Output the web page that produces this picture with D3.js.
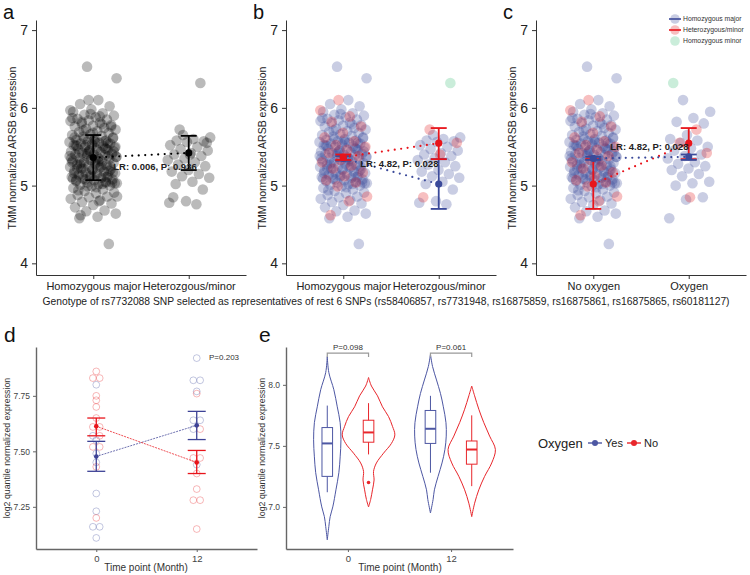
<!DOCTYPE html>
<html>
<head>
<meta charset="utf-8">
<script src="https://cdn.jsdelivr.net/npm/d3@7"></script>
<style>
body { margin: 0; background: #fff; }
svg { font-family: "Liberation Sans", Arial, sans-serif; }
</style>
</head>
<body>
<svg id="fig" width="750" height="575"></svg>
<script>
// ---- data: panels a-c (TMM normalized ARSB expression) ----
var catsGeno = ['Homozygous major', 'Heterozgous/minor'];
var catsOxy = ['No oxygen', 'Oxygen'];

// homozygous major column (also the "No oxygen" column in c), split by colour used in b/c
var homBlue = [6.53, 6.38, 6.10, 6.05, 6.02, 5.98, 5.95, 5.93, 5.91, 5.90, 5.88, 5.86, 5.85, 5.84, 5.83, 5.81, 5.80, 5.78,
	5.77, 5.76, 5.74, 5.73, 5.72, 5.70, 5.69, 5.68, 5.66, 5.65, 5.64, 5.63, 5.61, 5.60, 5.59, 5.58, 5.57, 5.56, 5.55, 5.54,
	5.54, 5.53, 5.52, 5.51, 5.50, 5.49, 5.48, 5.47, 5.46, 5.45, 5.44, 5.43, 5.42, 5.41, 5.40, 5.40, 5.39, 5.38, 5.37, 5.36,
	5.35, 5.34, 5.33, 5.32, 5.31, 5.30, 5.29, 5.28, 5.27, 5.26, 5.25, 5.24, 5.23, 5.22, 5.21, 5.20, 5.19, 5.18, 5.17, 5.16,
	5.15, 5.14, 5.13, 5.12, 5.11, 5.10, 5.09, 5.08, 5.07, 5.06, 5.05, 5.04, 5.03, 5.02, 5.01, 5.00, 4.99, 4.97, 4.95, 4.93,
	4.91, 4.90, 4.88, 4.86, 4.85, 4.83, 4.81, 4.79, 4.77, 4.75, 4.72, 4.68, 4.67, 4.64, 4.60, 4.58, 4.25, 5.92, 5.87, 5.79,
	5.71, 5.62, 5.56, 5.51, 5.47, 5.43, 5.38, 5.34, 5.29, 5.25, 5.21, 5.16, 5.12, 5.08, 5.03, 4.98, 4.94, 5.55, 5.45, 5.35,
	5.24, 5.14, 5.04, 5.58, 5.52, 5.48, 5.41, 5.37, 5.31, 5.27, 5.19, 5.13, 5.09, 5.02, 5.60, 5.44, 5.33, 5.22, 5.11];
var homRed = [6.10, 5.97, 5.89, 5.82, 5.76, 5.68, 5.62, 5.57, 5.52, 5.50, 5.46, 5.42, 5.38, 5.33, 5.30, 5.26, 5.22, 5.17,
	5.12, 5.07, 5.04, 4.99, 4.86, 4.80, 4.62];

var hetBlue = [5.65, 5.62, 5.60, 5.58, 5.57, 5.56, 5.52, 5.50, 5.47, 5.45, 5.42, 5.40, 5.38, 5.35, 5.33, 5.30, 5.27, 5.25,
	5.20, 5.18, 5.15, 5.12, 5.10, 5.05, 5.02, 4.95, 4.80, 4.78, 4.76];
var hetRed = [5.72, 5.55, 5.40, 4.85];
var hetGreen = [6.32];

var oxyBlue = [6.10, 5.95, 5.87, 5.82, 5.80, 5.65, 5.60, 5.58, 5.55, 5.50, 5.48, 5.45, 5.40, 5.38, 5.35, 5.30, 5.28, 5.25,
	5.22, 5.20, 5.15, 5.12, 5.05, 5.03, 5.00, 4.85, 4.82, 4.58];
var oxyRed = [5.72, 5.55, 5.42, 4.85];
var oxyGreen = [6.32];

// mean and error bar rows: [category, mean, low, high]
var statA = [[1, 5.36, 5.07, 5.65], [2, 5.42, 5.20, 5.64]];
var statBBlue = [[1, 5.35, 5.32, 5.38], [2, 5.02, 4.70, 5.34]];
var statBRed = [[1, 5.365, 5.33, 5.40], [2, 5.545, 5.34, 5.74]];
var statCBlue = [[1, 5.35, 5.33, 5.37], [2, 5.37, 5.33, 5.40]];
var statCRed = [[1, 5.02, 4.70, 5.34], [2, 5.545, 5.34, 5.74]];
var lrA = 'LR: 0.006, P: 0.936';
var lrBC = 'LR: 4.82, P: 0.028';
var legendLabels = ['Homozygous  major', 'Heterozygous/minor', 'Homozygous minor'];

// ---- data: panel d ----
var timeCats = ['0', '12'];
var d0Red = [7.86, 7.83, 7.83, 7.75, 7.73, 7.70, 7.65, 7.61, 7.61, 7.57, 7.52, 7.52, 7.43, 7.20];
var d0Blue = [7.80, 7.57, 7.55, 7.49, 7.45, 7.31, 7.23, 7.16, 7.16, 7.11];
var d12Red = [7.76, 7.60, 7.47, 7.47, 7.40, 7.33, 7.28, 7.28, 7.15];
var d12Blue = [7.92, 7.82, 7.82, 7.77, 7.64, 7.64, 7.60, 7.44];
var statDRed = [[1, 7.613, 7.57, 7.65], [2, 7.45, 7.40, 7.504]];
var statDBlue = [[1, 7.477, 7.41, 7.545], [2, 7.617, 7.553, 7.68]];
var pD = 'P=0.203';

// ---- data: panel e (violin density profiles [value, relative density]) ----
var vYes0 = [[8.23, 0], [8.10, 0.06], [7.96, 0.25], [7.82, 0.38], [7.69, 0.49], [7.55, 0.52], [7.41, 0.49], [7.28, 0.44],
	[7.14, 0.33], [7.00, 0.21], [6.92, 0.11], [6.84, 0.06], [6.73, 0]];
var vNo0 = [[8.06, 0], [7.99, 0.11], [7.91, 0.34], [7.82, 0.53], [7.74, 0.76], [7.66, 0.91], [7.59, 1.0], [7.52, 0.87],
	[7.44, 0.57], [7.36, 0.30], [7.29, 0.19], [7.22, 0.21], [7.14, 0.15], [7.06, 0.08], [7.00, 0]];
var vYes12 = [[8.25, 0], [8.15, 0.08], [8.04, 0.23], [7.93, 0.38], [7.82, 0.49], [7.69, 0.59], [7.58, 0.60], [7.47, 0.55],
	[7.36, 0.44], [7.25, 0.29], [7.14, 0.15], [7.06, 0.10], [6.95, 0]];
var vNo12 = [[7.99, 0], [7.91, 0.11], [7.80, 0.27], [7.69, 0.46], [7.58, 0.68], [7.47, 0.90], [7.36, 0.76], [7.25, 0.49],
	[7.14, 0.27], [7.03, 0.11], [6.92, 0]];
// boxplots: [whisker low, q1, median, q3, whisker high]
var bYes0 = [7.12, 7.25, 7.52, 7.65, 7.83];
var bNo0 = [7.43, 7.53, 7.61, 7.71, 7.85];
var bYes12 = [7.28, 7.52, 7.64, 7.79, 7.91];
var bNo12 = [7.17, 7.35, 7.47, 7.54, 7.75];
var outNo0 = [7.20];
var pE = ['P=0.098', 'P=0.061'];
var oxyKeys = ['Yes', 'No'];

var caption = 'Genotype of rs7732088 SNP selected as representatives of rest 6 SNPs (rs58406857, rs7731948, rs16875859, rs16875861, rs16875865, rs60181127)';

// ---- styles ----
var fills = { black: '#000000', blue: '#3c4a9c', red: '#e4191d', green: '#4fc285' };
var alphas = { black: 0.27, blue: 0.28, red: 0.28, green: 0.3 };
var lineCol = { black: '#000000', blue: '#3b4a9a', red: '#e8141b' };

var svg = d3.select('#fig');

function styleAxis(g, col, txt, size) {
	g.selectAll('path, line').attr('stroke', col);
	g.selectAll('text').attr('fill', txt).style('font-size', size + 'px')
		.style('font-family', '"Liberation Sans", Arial, sans-serif');
}

// spread points across a column (low discrepancy, so no overlap pattern)
function jit(i, w) {
	return ((i * 0.6180339887 + 0.37) % 1 - 0.5) * 2 * w;
}

function drawStats(g, x, y, rows, col, capW, lw, dotR, dash) {
	g.append('path')
		.datum(rows)
		.attr('class', 'link')
		.attr('d', d3.line().x(function(d) { return x(d[0]); }).y(function(d) { return y(d[1]); }))
		.attr('fill', 'none')
		.attr('stroke', col)
		.attr('stroke-width', dash[0])
		.attr('stroke-linecap', 'round')
		.attr('stroke-dasharray', dash[1]);
	var bar = g.selectAll(null).data(rows).enter().append('g');
	bar.append('line')
		.attr('x1', function(d) { return x(d[0]); }).attr('x2', function(d) { return x(d[0]); })
		.attr('y1', function(d) { return y(d[2]); }).attr('y2', function(d) { return y(d[3]); });
	bar.append('line')
		.attr('x1', function(d) { return x(d[0]) - capW; }).attr('x2', function(d) { return x(d[0]) + capW; })
		.attr('y1', function(d) { return y(d[2]); }).attr('y2', function(d) { return y(d[2]); });
	bar.append('line')
		.attr('x1', function(d) { return x(d[0]) - capW; }).attr('x2', function(d) { return x(d[0]) + capW; })
		.attr('y1', function(d) { return y(d[3]); }).attr('y2', function(d) { return y(d[3]); });
	bar.selectAll('line').attr('stroke', col).attr('stroke-width', lw);
	bar.append('circle')
		.attr('cx', function(d) { return x(d[0]); })
		.attr('cy', function(d) { return y(d[1]); })
		.attr('r', dotR)
		.attr('fill', col);
	return bar;
}

// ---- panels a, b, c ----
var yTop = d3.scaleLinear().domain([3.85, 7.13]).range([275, 20]);

function drawTop(ox, letter, cats, columns, stats, lr, lrDx, lrV) {
	var g = svg.append('g').attr('transform', 'translate(' + ox + ',0)');
	var x = d3.scaleLinear().domain([0.4, 2.6]).range([36, 246]);

	var ya = g.append('g').attr('transform', 'translate(36,0)')
		.call(d3.axisLeft(yTop).tickValues([4, 5, 6, 7]).tickSize(4).tickPadding(4).tickSizeOuter(0).tickFormat(d3.format('d')));
	styleAxis(ya, '#333', '#222', 14);
	var xa = g.append('g').attr('transform', 'translate(0,275)')
		.call(d3.axisBottom(x).tickValues([1, 2]).tickSize(4).tickSizeOuter(0).tickFormat(function(d) { return cats[d - 1]; }));
	styleAxis(xa, '#333', '#222', 11);

	g.append('text')
		.attr('transform', 'translate(16,148) rotate(-90)')
		.attr('text-anchor', 'middle')
		.style('font-size', '10.5px')
		.attr('fill', '#222')
		.text('TMM normalized ARSB expression');

	g.append('text').attr('x', 3).attr('y', 19).style('font-size', '20px').attr('fill', '#111').text(letter);

	columns.forEach(function(col) {
		var pts = [];
		col.sets.forEach(function(s) {
			s.vals.forEach(function(v) { pts.push({ v: v, k: s.k }); });
		});
		g.append('g').selectAll('circle')
			.data(pts)
			.enter().append('circle')
			.attr('cx', function(d, i) { return x(col.cat + jit(i, col.w)); })
			.attr('cy', function(d) { return yTop(d.v); })
			.attr('r', 5.3)
			.attr('fill', function(d) { return fills[d.k]; })
			.attr('fill-opacity', function(d) { return alphas[d.k]; });
	});

	stats.forEach(function(s) {
		drawStats(g, x, yTop, s.rows, lineCol[s.k], 8, 1.8, 3.6, [2.2, '0,6.5']);
	});

	g.append('text')
		.attr('x', x(1) + lrDx)
		.attr('y', yTop(lrV))
		.style('font-size', '9.5px')
		.style('font-weight', 'bold')
		.attr('fill', '#222')
		.text(lr);
	return g;
}

drawTop(0, 'a', catsGeno,
	[{ cat: 1, w: 0.25, sets: [{ k: 'black', vals: homBlue.concat(homRed) }] },
	 { cat: 2, w: 0.23, sets: [{ k: 'black', vals: hetBlue.concat(hetRed, hetGreen) }] }],
	[{ k: 'black', rows: statA }], lrA, 20, 5.2);

drawTop(250, 'b', catsGeno,
	[{ cat: 1, w: 0.25, sets: [{ k: 'blue', vals: homBlue }, { k: 'red', vals: homRed }] },
	 { cat: 2, w: 0.23, sets: [{ k: 'blue', vals: hetBlue }, { k: 'red', vals: hetRed }, { k: 'green', vals: hetGreen }] }],
	[{ k: 'blue', rows: statBBlue }, { k: 'red', rows: statBRed }], lrBC, 17, 5.24);

var gc = drawTop(500, 'c', catsOxy,
	[{ cat: 1, w: 0.25, sets: [{ k: 'blue', vals: homBlue }, { k: 'red', vals: homRed }] },
	 { cat: 2, w: 0.23, sets: [{ k: 'blue', vals: oxyBlue }, { k: 'red', vals: oxyRed }, { k: 'green', vals: oxyGreen }] }],
	[{ k: 'red', rows: statCRed }, { k: 'blue', rows: statCBlue }], lrBC, 17, 5.46);

// legend of c
var legKeys = ['blue', 'red', 'green'];
var leg = gc.append('g').attr('transform', 'translate(169,19)');
var li = leg.selectAll('g').data(legKeys).enter().append('g')
	.attr('transform', function(d, i) { return 'translate(0,' + (i * 11) + ')'; });
li.append('circle').attr('cx', 6).attr('r', 4.8)
	.attr('fill', function(d) { return fills[d]; })
	.attr('fill-opacity', function(d) { return alphas[d]; });
li.filter(function(d) { return d !== 'green'; }).append('line')
	.attr('x1', 0).attr('x2', 12)
	.attr('stroke', function(d) { return lineCol[d]; })
	.attr('stroke-width', 1.6);
li.append('text').attr('x', 14).attr('y', 2.4)
	.style('font-size', '6.8px').attr('fill', '#333')
	.text(function(d, i) { return legendLabels[i]; });

svg.append('text')
	.attr('x', 386).attr('y', 305)
	.attr('text-anchor', 'middle')
	.style('font-size', '10.3px')
	.attr('fill', '#222')
	.text(caption);

// ---- panel d ----
(function() {
	var g = svg.append('g');
	var x = d3.scaleLinear().domain([0.4, 2.6]).range([36, 257]);
	var y = d3.scaleLinear().domain([7.06, 7.97]).range([549, 347]);

	var ya = g.append('g').attr('transform', 'translate(36,0)')
		.call(d3.axisLeft(y).tickValues([7.25, 7.5, 7.75]).tickSize(3).tickPadding(3).tickSizeOuter(0).tickFormat(d3.format('.2f')));
	styleAxis(ya, '#666', '#444', 8.5);
	ya.select('.domain').attr('stroke-width', 1.4);
	var xa = g.append('g').attr('transform', 'translate(0,549)')
		.call(d3.axisBottom(x).tickValues([1, 2]).tickSize(3).tickSizeOuter(0).tickFormat(function(d) { return timeCats[d - 1]; }));
	styleAxis(xa, '#666', '#444', 9.5);
	xa.select('.domain').attr('stroke-width', 1.4);

	g.append('text').attr('transform', 'translate(10,448) rotate(-90)').attr('text-anchor', 'middle')
		.style('font-size', '8.8px').attr('fill', '#333').text('log2 quantile normalized expression');
	g.append('text').attr('x', 146).attr('y', 571).attr('text-anchor', 'middle')
		.style('font-size', '10px').attr('fill', '#333').text('Time point (Month)');
	g.append('text').attr('x', 4).attr('y', 342).style('font-size', '21px').attr('fill', '#111').text('d');

	var cols = [{ cat: 1, red: d0Red, blue: d0Blue }, { cat: 2, red: d12Red, blue: d12Blue }];
	cols.forEach(function(c) {
		var pts = c.blue.map(function(v) { return { v: v, k: 'blue' }; })
			.concat(c.red.map(function(v) { return { v: v, k: 'red' }; }));
		// equal values sit side by side
		var groups = d3.group(pts, function(d) { return d.v; });
		groups.forEach(function(arr) {
			arr.forEach(function(d, i) { d.dx = (i - (arr.length - 1) / 2) * 6.8; });
		});
		g.append('g').selectAll('circle').data(pts).enter().append('circle')
			.attr('cx', function(d) { return x(c.cat) + d.dx; })
			.attr('cy', function(d) { return y(d.v); })
			.attr('r', 3.4)
			.attr('fill', 'none')
			.attr('stroke', function(d) { return fills[d.k]; })
			.attr('stroke-opacity', 0.35)
			.attr('stroke-width', 0.9);
	});

	drawStats(g, x, y, statDBlue, '#3d4296', 9, 1.3, 2.3, [1, '1.2,1.8']);
	drawStats(g, x, y, statDRed, '#e8141b', 9, 1.3, 2.3, [1, '1.2,1.8']);
	g.selectAll('path.link').attr('stroke-opacity', 0.75);

	g.append('text').attr('x', 209).attr('y', 360).style('font-size', '8px').attr('fill', '#333').text(pD);
})();

// ---- panel e ----
(function() {
	var g = svg.append('g');
	var x = d3.scaleLinear().domain([0.4, 2.6]).range([286, 513]);
	var y = d3.scaleLinear().domain([6.655, 8.31]).range([549, 347]);
	var dodge = 0.2;
	var wScale = d3.scaleLinear().domain([0, 1]).range([0, 26.3]);
	var eCol = { Yes: '#4d57a3', No: '#e8262b' };

	var ya = g.append('g').attr('transform', 'translate(286,0)')
		.call(d3.axisLeft(y).tickValues([7.0, 7.5, 8.0]).tickSize(3).tickPadding(3).tickSizeOuter(0).tickFormat(d3.format('.1f')));
	styleAxis(ya, '#666', '#444', 8.5);
	ya.select('.domain').attr('stroke-width', 1.4);
	var xa = g.append('g').attr('transform', 'translate(0,549)')
		.call(d3.axisBottom(x).tickValues([1, 2]).tickSize(3).tickSizeOuter(0).tickFormat(function(d) { return timeCats[d - 1]; }));
	styleAxis(xa, '#666', '#444', 9.5);
	xa.select('.domain').attr('stroke-width', 1.4);

	g.append('text').attr('transform', 'translate(265,448) rotate(-90)').attr('text-anchor', 'middle')
		.style('font-size', '8.8px').attr('fill', '#333').text('log2 quantile normalized expression');
	g.append('text').attr('x', 400).attr('y', 571).attr('text-anchor', 'middle')
		.style('font-size', '10px').attr('fill', '#333').text('Time point (Month)');
	g.append('text').attr('x', 259).attr('y', 342).style('font-size', '21px').attr('fill', '#111').text('e');

	var items = [
		{ cat: 1, k: 'Yes', v: vYes0, b: bYes0, out: [] },
		{ cat: 1, k: 'No', v: vNo0, b: bNo0, out: outNo0 },
		{ cat: 2, k: 'Yes', v: vYes12, b: bYes12, out: [] },
		{ cat: 2, k: 'No', v: vNo12, b: bNo12, out: [] }
	];
	items.forEach(function(it) {
		var cx = x(it.cat + (it.k === 'Yes' ? -dodge : dodge));
		var col = eCol[it.k];
		var area = d3.area()
			.curve(d3.curveCatmullRom)
			.y(function(d) { return y(d[0]); })
			.x0(function(d) { return cx - wScale(d[1]); })
			.x1(function(d) { return cx + wScale(d[1]); });
		g.append('path').attr('d', area(it.v)).attr('fill', 'none').attr('stroke', col).attr('stroke-width', 1);
		var b = it.b, bw = 5.3;
		g.append('line').attr('x1', cx).attr('x2', cx).attr('y1', y(b[0])).attr('y2', y(b[1])).attr('stroke', col);
		g.append('line').attr('x1', cx).attr('x2', cx).attr('y1', y(b[3])).attr('y2', y(b[4])).attr('stroke', col);
		g.append('rect').attr('x', cx - bw).attr('width', bw * 2)
			.attr('y', y(b[3])).attr('height', y(b[1]) - y(b[3]))
			.attr('fill', 'none').attr('stroke', col).attr('stroke-width', 1);
		g.append('line').attr('x1', cx - bw).attr('x2', cx + bw).attr('y1', y(b[2])).attr('y2', y(b[2]))
			.attr('stroke', col).attr('stroke-width', 2);
		g.selectAll(null).data(it.out).enter().append('circle')
			.attr('cx', cx).attr('cy', function(d) { return y(d); }).attr('r', 1.8).attr('fill', col);
	});

	// significance brackets
	[1, 2].forEach(function(c, i) {
		var x0 = x(c - dodge), x1 = x(c + dodge), yb = y(8.26);
		g.append('path')
			.attr('d', 'M' + x0 + ',' + (yb + 4) + 'V' + yb + 'H' + x1 + 'V' + (yb + 4))
			.attr('fill', 'none').attr('stroke', '#999').attr('stroke-width', 1.2);
		g.append('text').attr('x', x(c)).attr('y', yb - 3).attr('text-anchor', 'middle')
			.style('font-size', '8px').attr('fill', '#333').text(pE[i]);
	});

	// legend
	var lg = g.append('g').attr('transform', 'translate(538,443)');
	lg.append('text').attr('y', 4.5).style('font-size', '13px').attr('fill', '#222').text('Oxygen');
	var ki = lg.selectAll('g.k').data(oxyKeys).enter().append('g')
		.attr('transform', function(d, i) { return 'translate(' + (50 + i * 39) + ',0)'; });
	ki.append('line').attr('x1', 0).attr('x2', 14).attr('stroke', function(d) { return eCol[d]; }).attr('stroke-width', 1.4);
	ki.append('circle').attr('cx', 7).attr('r', 3).attr('fill', function(d) { return eCol[d]; });
	ki.append('text').attr('x', 17).attr('y', 4).style('font-size', '11px').attr('fill', '#222')
		.text(function(d) { return d; });
})();
</script>
</body>
</html>
